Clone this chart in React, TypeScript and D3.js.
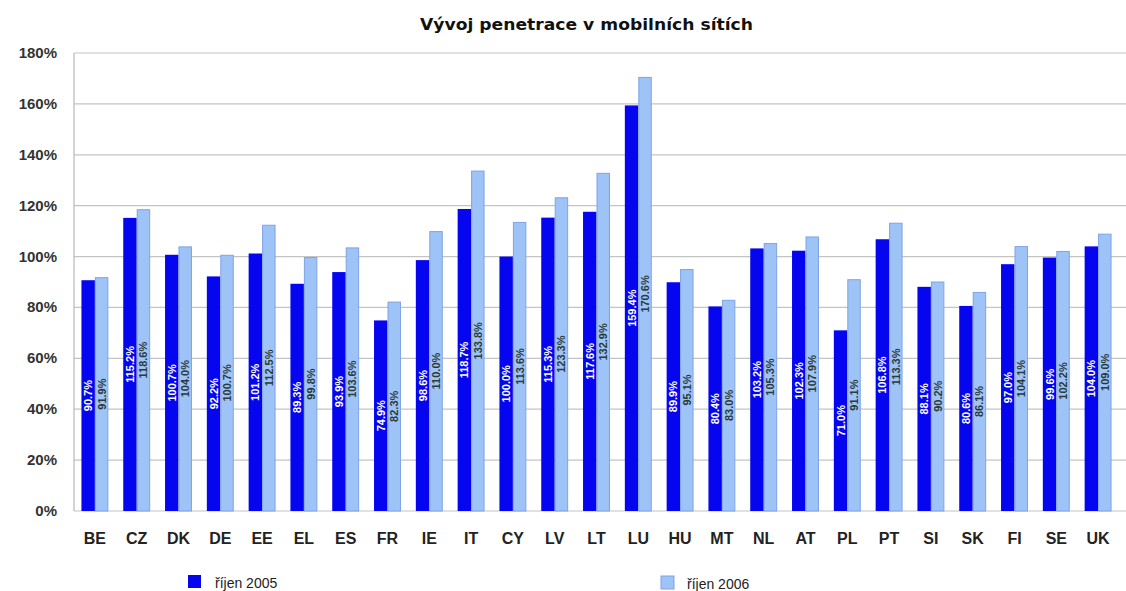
import React from "react";
import * as d3 from "d3";

const categories = ["BE","CZ","DK","DE","EE","EL","ES","FR","IE","IT","CY","LV","LT","LU","HU","MT","NL","AT","PL","PT","SI","SK","FI","SE","UK"];
const values2005 = [90.7,115.2,100.7,92.2,101.2,89.3,93.9,74.9,98.6,118.7,100.0,115.3,117.6,159.4,89.9,80.4,103.2,102.3,71.0,106.8,88.1,80.6,97.0,99.6,104.0];
const values2006 = [91.9,118.6,104.0,100.7,112.5,99.8,103.6,82.3,110.0,133.8,113.6,123.3,132.9,170.6,95.1,83.0,105.3,107.9,91.1,113.3,90.2,86.1,104.1,102.2,109.0];
const yTicks = [0,20,40,60,80,100,120,140,160,180];
const seriesNames = ["říjen 2005","říjen 2006"];
const title = "Vývoj penetrace v mobilních sítích";

const W = 1126, H = 591;
const left = 74, right = 1119, top = 53, bottom = 511;
const dark = "#0505f0";
const light = "#9ec3f6";
const lightStroke = "#7fa3e6";

export default function App() {
  const x = d3.scaleBand<string>().domain(categories).range([left, right]).padding(0);
  const y = d3.scaleLinear().domain([0, 180]).range([bottom, top]);
  const step = x.step();
  const bw = step * 0.322;
  const font = "Liberation Sans, Arial, sans-serif";
  const fmt = (v: number) => v.toFixed(1) + "%";

  return (
    <svg width={W} height={H} style={{ position: "absolute", left: 0, top: 0, background: "#fff" }}>
      <rect x={0} y={0} width={W} height={H} fill="#fff" />
      <text x={420} y={30} fontFamily="DejaVu Sans, Verdana, sans-serif" fontWeight="bold" fontSize={15} fill="#111" textLength={333} lengthAdjust="spacingAndGlyphs">{title}</text>
      {yTicks.map((t) => (
        <g key={t}>
          <line x1={left} x2={W} y1={y(t)} y2={y(t)} stroke="#c4c4c4" strokeWidth={1.2} />
          <text x={57} y={y(t) + 5} textAnchor="end" fontFamily={font} fontWeight="bold" fontSize={15} fill="#333">{t}%</text>
        </g>
      ))}
      <line x1={left} x2={left} y1={top} y2={bottom} stroke="#b8b8b8" strokeWidth={1.2} />
      {categories.map((c, i) => {
        const cx = (x(c) as number) + step / 2;
        const v1 = values2005[i], v2 = values2006[i];
        const x1 = cx - bw, x2 = cx;
        const m1 = (y(v1) + bottom) / 2, m2 = (y(v2) + bottom) / 2;
        return (
          <g key={c}>
            <rect x={x1} y={y(v1)} width={bw} height={bottom - y(v1)} fill={dark} />
            <rect x={x2 + 0.5} y={y(v2) + 0.5} width={bw - 1} height={bottom - y(v2) - 0.5} fill={light} stroke={lightStroke} strokeWidth={1} />
            <text transform={`translate(${x1 + bw / 2 + 4},${m1}) rotate(-90)`} textAnchor="middle" fontFamily={font} fontWeight="bold" fontSize={11} fill="#fff">{fmt(v1)}</text>
            <text transform={`translate(${x2 + bw / 2 + 4},${m2}) rotate(-90)`} textAnchor="middle" fontFamily={font} fontWeight="bold" fontSize={11} fill="#2a3a3a">{fmt(v2)}</text>
            <text x={cx} y={544} textAnchor="middle" fontFamily={font} fontWeight="bold" fontSize={16} fill="#222">{c}</text>
          </g>
        );
      })}
      <rect x={188} y={575} width={13} height={13} fill={dark} />
      <text x={215} y={588} fontFamily={font} fontSize={14} fill="#222">{seriesNames[0]}</text>
      <rect x={661} y={576} width={13} height={13} fill={light} stroke={lightStroke} />
      <text x={687} y={589} fontFamily={font} fontSize={14} fill="#222">{seriesNames[1]}</text>
    </svg>
  );
}
